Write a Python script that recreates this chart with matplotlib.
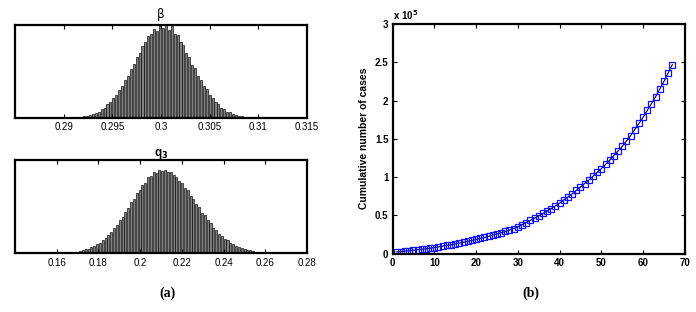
import matplotlib.pyplot as plt
import numpy as np

# posterior histograms (bin heights, normalised to the tallest bin)
beta_bin_start = 0.2915
beta_bin_width = 0.0003
beta_counts = [0.010, 0.014, 0.021, 0.025, 0.036, 0.044, 0.061, 0.072, 0.097, 0.115,
               0.150, 0.172, 0.220, 0.248, 0.305, 0.345, 0.412, 0.455, 0.530, 0.578,
               0.655, 0.702, 0.775, 0.818, 0.880, 0.905, 0.962, 0.940, 0.985, 0.965,
               1.000, 0.950, 0.985, 0.905, 0.890, 0.815, 0.780, 0.700, 0.660, 0.575,
               0.535, 0.455, 0.415, 0.345, 0.310, 0.250, 0.220, 0.172, 0.150, 0.115,
               0.098, 0.072, 0.062, 0.044, 0.037, 0.025, 0.022, 0.014, 0.012, 0.007,
               0.007, 0.003, 0.004, 0.002, 0.001, 0.001]

q3_bin_start = 0.163
q3_bin_width = 0.00136
q3_counts = [0.005, 0.008, 0.011, 0.012, 0.019, 0.022, 0.031, 0.035, 0.049, 0.056,
             0.075, 0.086, 0.113, 0.128, 0.162, 0.183, 0.226, 0.251, 0.305, 0.336,
             0.398, 0.433, 0.502, 0.540, 0.612, 0.650, 0.722, 0.758, 0.826, 0.850,
             0.912, 0.925, 0.975, 0.968, 1.000, 0.985, 1.000, 0.975, 0.972, 0.935,
             0.920, 0.870, 0.845, 0.788, 0.755, 0.690, 0.656, 0.590, 0.555, 0.490,
             0.455, 0.395, 0.365, 0.310, 0.283, 0.236, 0.214, 0.175, 0.157, 0.126,
             0.112, 0.088, 0.078, 0.060, 0.053, 0.039, 0.035, 0.025, 0.022, 0.016,
             0.014, 0.009, 0.009, 0.005, 0.005, 0.003]

beta_ticks = [0.29, 0.295, 0.3, 0.305, 0.31, 0.315]
beta_ticklabels = ['0.29', '0.295', '0.3', '0.305', '0.31', '0.315']
q3_ticks = [0.16, 0.18, 0.2, 0.22, 0.24, 0.26, 0.28]
q3_ticklabels = ['0.16', '0.18', '0.2', '0.22', '0.24', '0.26', '0.28']

# cumulative cases (units of 10^5)
days = list(range(1, 68))
cum_cases_1e5 = [0.020, 0.025, 0.030, 0.036, 0.042, 0.048, 0.055, 0.062, 0.070, 0.078,
                 0.087, 0.096, 0.105, 0.115, 0.125, 0.136, 0.147, 0.159, 0.171, 0.184,
                 0.197, 0.210, 0.224, 0.239, 0.255, 0.271, 0.288, 0.306, 0.325, 0.350,
                 0.378, 0.405, 0.433, 0.462, 0.492, 0.523, 0.555, 0.588, 0.622, 0.660,
                 0.700, 0.740, 0.780, 0.825, 0.870, 0.915, 0.960, 1.010, 1.060, 1.110,
                 1.165, 1.220, 1.280, 1.340, 1.400, 1.470, 1.540, 1.620, 1.700, 1.780,
                 1.870, 1.960, 2.050, 2.150, 2.250, 2.360, 2.470]

plt.rcParams['font.family'] = ['Liberation Sans', 'DejaVu Sans']

fig = plt.figure(figsize=(6.96, 3.12), dpi=100)


def style_hist(ax):
    for s in ax.spines.values():
        s.set_linewidth(1.6)
    ax.set_yticks([])
    ax.tick_params(axis='x', direction='in', top=True, length=3, width=0.8,
                   labelsize=7, pad=3)


ax1 = fig.add_axes([0.0216, 0.621, 0.4195, 0.299])
beta_centers = beta_bin_start + beta_bin_width * np.arange(len(beta_counts))
ax1.bar(beta_centers, beta_counts, width=beta_bin_width * 0.72, color='0.5',
        edgecolor='black', linewidth=0.45)
ax1.set_xlim(0.285, 0.315)
ax1.set_ylim(0, 1.0)
ax1.set_xticks(beta_ticks)
ax1.set_xticklabels(beta_ticklabels)
style_hist(ax1)
ax1.set_title('β', fontsize=8.5, pad=5, family=['DejaVu Sans'])

ax2 = fig.add_axes([0.0216, 0.188, 0.4195, 0.299])
q3_centers = q3_bin_start + q3_bin_width * np.arange(len(q3_counts))
ax2.bar(q3_centers, q3_counts, width=q3_bin_width * 0.72, color='0.5',
        edgecolor='black', linewidth=0.45)
ax2.set_xlim(0.14, 0.28)
ax2.set_ylim(0, 1.12)
ax2.set_xticks(q3_ticks)
ax2.set_xticklabels(q3_ticklabels)
style_hist(ax2)
ax2.set_title('q$_\\mathbf{3}$', fontsize=8.5, fontweight='bold', pad=3)

ax3 = fig.add_axes([0.564, 0.1875, 0.420, 0.7355])
ax3.plot(days, cum_cases_1e5, color='black', linewidth=0.8)
ax3.plot(days, cum_cases_1e5, linestyle='none', marker='s', markersize=5,
         markerfacecolor='none', markeredgecolor='#1010ff', markeredgewidth=0.9)
ax3.set_xlim(0, 70)
ax3.set_ylim(0, 3)
ax3.set_xticks(range(0, 71, 10))
ax3.set_yticks([0, 0.5, 1, 1.5, 2, 2.5, 3])
ax3.set_yticklabels(['0', '0.5', '1', '1.5', '2', '2.5', '3'])
for s in ax3.spines.values():
    s.set_linewidth(1.6)
ax3.tick_params(direction='in', top=True, right=True, length=3, width=0.8,
                labelsize=7, pad=3)
for lab in ax3.get_xticklabels() + ax3.get_yticklabels():
    lab.set_fontweight('bold')
ax3.set_ylabel('Cumulative number of cases', fontsize=7.5, fontweight='bold',
               labelpad=4)
ax3.text(0.0, 1.01, 'x 10$^\\mathbf{5}$', transform=ax3.transAxes, fontsize=7,
         fontweight='bold', ha='left', va='bottom')

fig.text(0.24, 0.048, '(a)', fontsize=10, fontweight='bold', ha='center',
         family=['Liberation Serif'])
fig.text(0.763, 0.048, '(b)', fontsize=10, fontweight='bold', ha='center',
         family=['Liberation Serif'])

plt.savefig('out.png', dpi=100)
